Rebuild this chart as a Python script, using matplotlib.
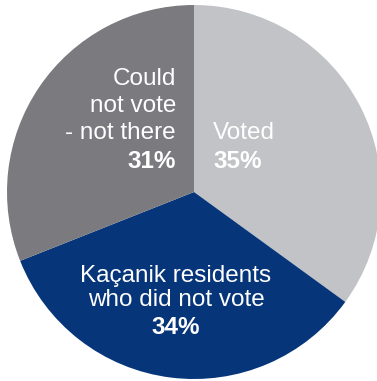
import matplotlib
matplotlib.use('Agg')
from matplotlib import pyplot as plt

# Share of Kaçanik residents by voting status
labels = ['Voted', 'Kaçanik residents\nwho did not vote', 'Could\nnot vote\n- not there']
shares = [35, 34, 31]
colors = ['#c1c3c6', '#063579', '#7b7a7f']

W, H = 377, 381
fig = plt.figure(figsize=(W / 100, H / 100), dpi=100)
ax = fig.add_axes([0, 0, 1, 1])

cx, cy, r = 194, H - 192, 187
ax.pie(shares, colors=colors, startangle=90, counterclock=False,
       center=(cx, cy), radius=r, frame=True,
       wedgeprops={'linewidth': 0})
ax.set_xlim(0, W)
ax.set_ylim(0, H)
ax.set_aspect('equal')
ax.axis('off')

font = 'Liberation Sans'
fs = 17.5
name_kw = dict(color='white', fontsize=fs, fontname=font)
pct_kw = dict(color='white', fontsize=fs, fontname=font, fontweight='bold')

# Voted
ax.text(213, H - 133, labels[0], ha='left', va='center', **name_kw)
ax.text(213, H - 161, f'{shares[0]}%', ha='left', va='center', **pct_kw)
# did not vote
ax.text(176, H - 288, labels[1], ha='center', va='center', multialignment='center',
        linespacing=1.12, **name_kw)
ax.text(176, H - 328, f'{shares[1]}%', ha='center', va='center', **pct_kw)
# could not vote
ax.text(176, H - 106, labels[2], ha='right', va='center', multialignment='right',
        linespacing=1.28, **name_kw)
ax.text(176, H - 161, f'{shares[2]}%', ha='right', va='center', **pct_kw)

plt.savefig('out.png', dpi=100)
plt.close()
